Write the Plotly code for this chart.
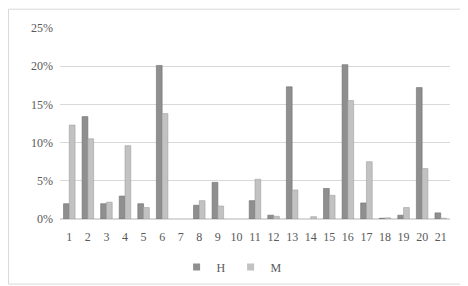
import plotly.graph_objects as go

categories = [str(i) for i in range(1, 22)]
h_values = [2.0, 13.4, 2.0, 3.0, 2.0, 20.1, None, 1.8, 4.8, None, 2.4, 0.5, 17.3, None, 4.0, 20.2, 2.1, 0.1, 0.5, 17.2, 0.8]
m_values = [12.3, 10.5, 2.2, 9.6, 1.5, 13.8, None, 2.4, 1.7, None, 5.2, 0.35, 3.8, 0.3, 3.1, 15.5, 7.5, 0.15, 1.5, 6.6, 0.1]
y_ticks = [0, 5, 10, 15, 20, 25]
y_labels = ["0%", "5%", "10%", "15%", "20%", "25%"]

W, H = 468, 286
ml, mr, mt, mb = 52, 26, 20, 68
pw, ph = W - ml - mr, H - mt - mb
FONT = "Liberation Serif"
TXT = "#595959"
H_COLOR, M_COLOR = "#8f8f8f", "#c2c2c2"

fig = go.Figure()
fig.add_trace(go.Bar(x=categories, y=h_values, name="H", showlegend=False,
                     marker=dict(color=H_COLOR, line=dict(color="#6e6e6e", width=0.6))))
fig.add_trace(go.Bar(x=categories, y=m_values, name="M", showlegend=False,
                     marker=dict(color=M_COLOR, line=dict(color="#a0a0a0", width=0.6))))
for name, col in (("H", H_COLOR), ("M", M_COLOR)):
    fig.add_trace(go.Scatter(x=[None], y=[None], mode="markers", name=name,
                             marker=dict(symbol="square", size=7, color=col)))

fig.update_layout(
    width=W, height=H,
    margin=dict(l=ml, r=mr, t=mt, b=mb),
    paper_bgcolor="white", plot_bgcolor="white",
    barmode="group", bargap=0.38, bargroupgap=0.0,
    font=dict(family=FONT, size=12, color=TXT),
    showlegend=True,
    legend=dict(orientation="h", x=0.44, xanchor="center", y=-0.175, yanchor="top",
                bgcolor="rgba(0,0,0,0)",
                font=dict(family=FONT, size=12, color=TXT), itemwidth=30,
                traceorder="normal", tracegroupgap=0),
    xaxis=dict(showgrid=False, showline=False, ticks="", type="category",
               ticklabelstandoff=9,
               tickfont=dict(family=FONT, size=12, color=TXT)),
    yaxis=dict(range=[0, 25], tickmode="array", tickvals=y_ticks, ticktext=y_labels,
               showgrid=True, gridcolor="#d9d9d9", gridwidth=1, zeroline=True,
               zerolinecolor="#d9d9d9", showline=False, ticks="",
               ticklabelstandoff=6,
               tickfont=dict(family=FONT, size=12, color=TXT)),
    shapes=[dict(type="rect", xref="paper", yref="paper",
                 x0=(-ml + 0.5) / pw, x1=1 + (mr - 0.5) / pw,
                 y0=(-mb + 0.5) / ph, y1=1 + (mt - 0.5) / ph,
                 line=dict(color="#d9d9d9", width=1), layer="below")],
)

fig.write_html("out.html")
